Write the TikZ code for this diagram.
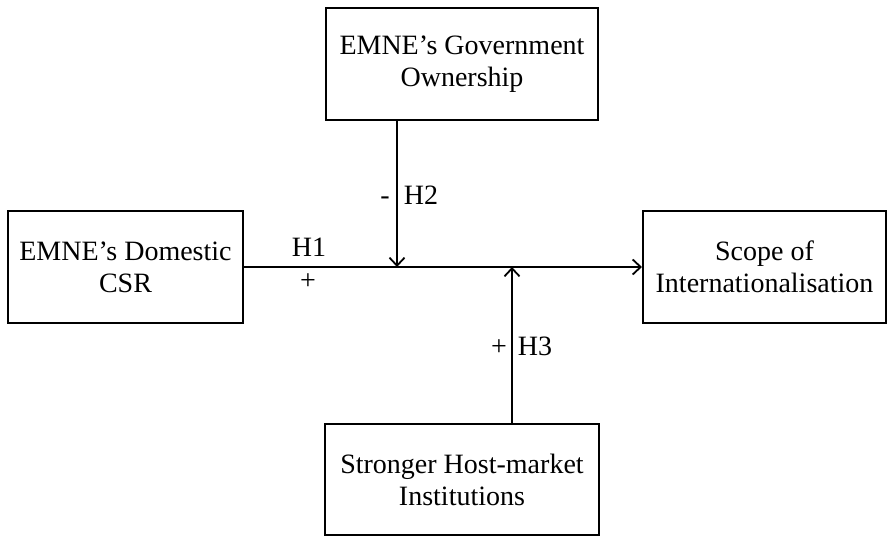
\documentclass[tikz,border=0pt]{standalone}
\usepackage{fontspec}
\setmainfont{Liberation Serif}
\usetikzlibrary{arrows.meta}
\begin{document}
\begin{tikzpicture}[x=1pt,y=-1pt,
  box/.style={draw,line width=2pt,align=center,inner sep=0pt,
    font=\fontsize{28}{32}\selectfont},
  lbl/.style={inner sep=0pt,anchor=base,font=\fontsize{28}{32}\selectfont},
  conn/.style={line width=1.8pt,-{Straight Barb[length=8pt,width=15pt,line width=1.8pt]}}]
\useasboundingbox (0,0) rectangle (888,538);
\node[box,minimum width=235pt,minimum height=112pt] (csr) at (125.5,267) {EMNE’s Domestic\\CSR};
\node[box,minimum width=243pt,minimum height=112pt] (scope) at (764.5,267) {Scope of\\Internationalisation};
\node[box,minimum width=272pt,minimum height=112pt] (gov) at (462,64) {EMNE’s Government\\Ownership};
\node[box,minimum width=274pt,minimum height=111pt] (host) at (462,479.5) {Stronger Host-market\\Institutions};
\coordinate (j2) at (397,267);
\coordinate (j3) at (512,267);
\draw[conn] (csr.east) -- (scope.west);
\draw[conn] (j2 |- gov.south) -- (j2);
\draw[conn] (j3 |- host.north) -- (j3);
\node[lbl] (h1) at (309,256) {H1};
\node[lbl] (p1) at (308,289) {+};
\node[lbl] (m2) at (385,204) {-};
\node[lbl] (h2) at (421,204) {H2};
\node[lbl] (p3) at (499,355) {+};
\node[lbl] (h3) at (535,355) {H3};
\end{tikzpicture}
\end{document}
